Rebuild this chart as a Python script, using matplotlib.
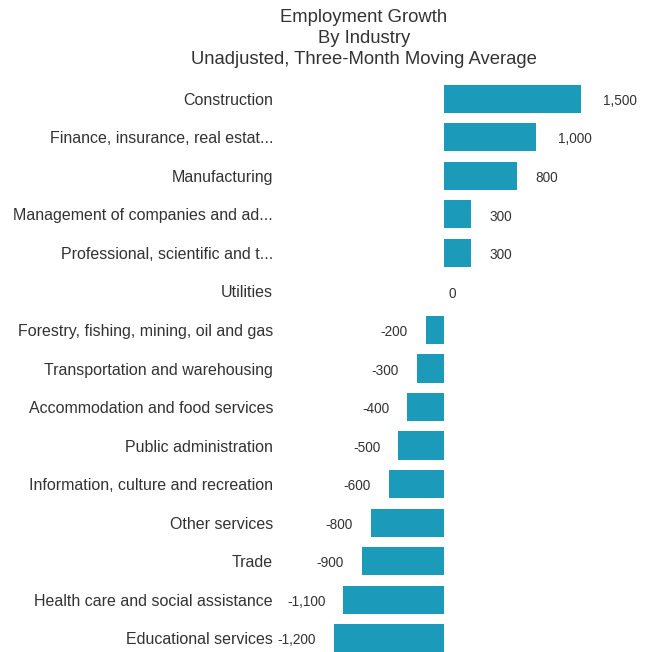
import matplotlib
matplotlib.use("Agg")
import matplotlib.pyplot as plt

# ---- données ----
industries = [
    "Construction",
    "Finance, insurance, real estat...",
    "Manufacturing",
    "Management of companies and ad...",
    "Professional, scientific and t...",
    "Utilities",
    "Forestry, fishing, mining, oil and gas",
    "Transportation and warehousing",
    "Accommodation and food services",
    "Public administration",
    "Information, culture and recreation",
    "Other services",
    "Trade",
    "Health care and social assistance",
    "Educational services",
]
growth = [1500, 1000, 800, 300, 300, 0, -200, -300, -400, -500, -600,
          -800, -900, -1100, -1200]

BAR_COLOR = "#1b9aba"
TEXT_COLOR = "#333333"

plt.rcParams["font.family"] = ["Liberation Sans", "DejaVu Sans"]

W, H = 649, 652
fig = plt.figure(figsize=(W / 100, H / 100), dpi=100)

# axe placé en pixels : zéro à x=444, 0.0915 px par unité
left_px, top_px = 280, 80
px_per_unit = 0.0915
zero_px = 444
ax = fig.add_axes([left_px / W, 0, (W - left_px) / W, (H - top_px) / H])
ax.set_xlim((left_px - zero_px) / px_per_unit, (W - zero_px) / px_per_unit)

rows = list(range(len(industries)))
ax.barh(rows, growth, height=0.73, color=BAR_COLOR)
ax.set_ylim(14.36, -0.49)

ax.set_yticks(rows)
ax.set_yticklabels(industries, fontsize=11.5, color=TEXT_COLOR)
ax.tick_params(axis="y", length=0, pad=5)
ax.set_xticks([])
for s in ax.spines.values():
    s.set_visible(False)

for r, v in zip(rows, growth):
    label = f"{v:,}"
    if v > 0:
        dx, ha = (16 if v >= 1000 else 13), "left"
    elif v < 0:
        dx, ha = -13, "right"
    else:
        dx, ha = 3, "left"
    ax.annotate(label, (v, r), xytext=(dx, -1.5), textcoords="offset points",
                ha=ha, va="center", fontsize=9.8, color=TEXT_COLOR)

fig.text(364 / W, 1 - 38.5 / H,
         "Employment Growth\nBy Industry\nUnadjusted, Three-Month Moving Average",
         ha="center", va="center", fontsize=13.3, color=TEXT_COLOR,
         linespacing=1.3)

fig.savefig("out.png", dpi=100)
